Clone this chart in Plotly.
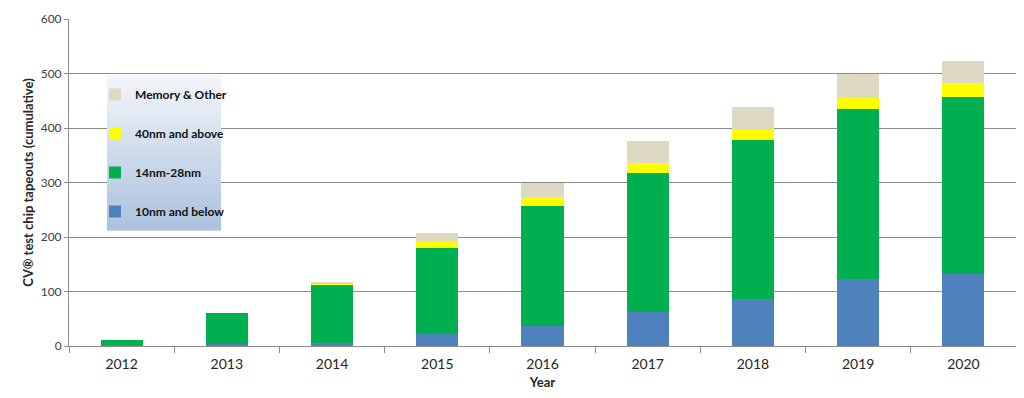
import plotly.graph_objects as go

years = ["2012", "2013", "2014", "2015", "2016", "2017", "2018", "2019", "2020"]
below_10nm = [1, 4, 6, 22, 37, 62, 86, 123, 132]
nm14_28 = [10, 56, 107, 158, 220, 256, 292, 312, 325]
nm40_above = [0, 0, 2, 11, 16, 18, 18, 20, 25]
memory_other = [0, 0, 1, 16, 27, 40, 42, 44, 41]

series = [
    ("10nm and below", below_10nm, "#4F81BD"),
    ("14nm-28nm", nm14_28, "#00B050"),
    ("40nm and above", nm40_above, "#FFFF00"),
    ("Memory & Other", memory_other, "#DDD9C3"),
]

fig = go.Figure()
for i, (name, vals, col) in enumerate(series):
    fig.add_trace(go.Bar(x=years, y=vals, name=name, marker_color=col,
                         marker_line_width=0, legendgroup=str(i),
                         legendrank=1000 - i))

# gradient legend background (plot area spans x 61..1008, y 11..338 in figure px)
n = 30
x0, x1 = (107 - 69) / 947, (221 - 69) / 947
ytop, ybot = (346 - 75) / 327, (346 - 230) / 327
c_top = (242, 245, 250)
c_bot = (172, 194, 222)
for k in range(n):
    t = k / (n - 1)
    r = round(c_top[0] + (c_bot[0] - c_top[0]) * t)
    g = round(c_top[1] + (c_bot[1] - c_top[1]) * t)
    b = round(c_top[2] + (c_bot[2] - c_top[2]) * t)
    ya = ytop - (ytop - ybot) * k / n
    yb = ytop - (ytop - ybot) * (k + 1) / n
    fig.add_shape(type="rect", xref="paper", yref="paper", x0=x0, x1=x1,
                  y0=yb - 0.002, y1=ya, fillcolor=f"rgb({r},{g},{b})",
                  line_width=0, layer="above")

fig.update_layout(
    barmode="stack",
    bargap=0.6,
    width=1008, height=382,
    margin=dict(l=61, r=0, t=11, b=44),
    plot_bgcolor="white", paper_bgcolor="white",
    font=dict(family="Lato, Open Sans, sans-serif", color="#262626"),
    legend=dict(x=(95 - 69) / 947, y=(346 - 80) / 327, xanchor="left", yanchor="top",
                bgcolor="rgba(0,0,0,0)", traceorder="grouped",
                tracegroupgap=20, itemwidth=30,
                font=dict(size=12, family="Lato, sans-serif", color="#111111", weight="bold")),
    xaxis=dict(showline=True, linecolor="#8c8c8c", linewidth=1,
               ticks="outside", tickson="boundaries", ticklen=6, tickcolor="#8c8c8c",
               ticklabelstandoff=5,
               tickfont=dict(size=14, color="#262626"),
               title=dict(text="<b>Year</b>", font=dict(size=13), standoff=8)),
    yaxis=dict(range=[0, 600], dtick=100, showgrid=True, gridcolor="#8c8c8c",
               showline=True, linecolor="#8c8c8c", ticks="outside", ticklen=4,
               tickcolor="#8c8c8c", tickfont=dict(size=12, color="#404040"),
               zeroline=False,
               title=dict(text="<b>CV® test chip tapeouts (cumulative)</b>",
                          font=dict(size=13), standoff=4)),
)

fig.write_html("out.html")
